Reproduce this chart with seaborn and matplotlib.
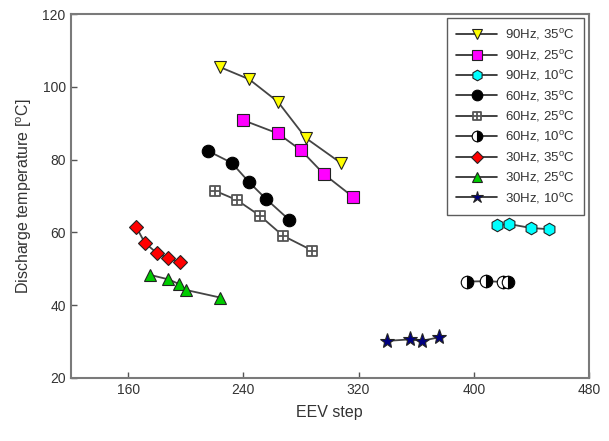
import numpy as np
import pandas as pd
import matplotlib
matplotlib.use("Agg")
import matplotlib.pyplot as plt
from matplotlib.path import Path
from matplotlib.lines import Line2D
import seaborn as sns

# ---- data ----
labels = ["90Hz, 35$^\\mathrm{o}$C", "90Hz, 25$^\\mathrm{o}$C", "90Hz, 10$^\\mathrm{o}$C",
          "60Hz, 35$^\\mathrm{o}$C", "60Hz, 25$^\\mathrm{o}$C", "60Hz, 10$^\\mathrm{o}$C",
          "30Hz, 35$^\\mathrm{o}$C", "30Hz, 25$^\\mathrm{o}$C", "30Hz, 10$^\\mathrm{o}$C"]

x_90_35 = [224, 244, 264, 283.5, 308]
y_90_35 = [105.4, 102.1, 95.9, 85.9, 79.0]
x_90_25 = [239.5, 264, 280, 296, 316]
y_90_25 = [90.9, 87.2, 82.6, 76.0, 69.8]
x_90_10 = [416, 424.5, 440, 452]
y_90_10 = [62.0, 62.3, 61.2, 60.9]
x_60_35 = [215.5, 232, 244, 255.5, 272]
y_60_35 = [82.4, 79.1, 73.8, 69.3, 63.4]
x_60_25 = [220, 235.5, 251.5, 267.5, 288]
y_60_25 = [71.5, 68.9, 64.6, 59.1, 55.0]
x_60_10 = [395, 408.5, 420.5, 424]
y_60_10 = [46.5, 46.6, 46.4, 46.4]
x_30_35 = [165.5, 171.5, 180, 188, 196]
y_30_35 = [61.6, 57.2, 54.3, 52.9, 51.8]
x_30_25 = [175.5, 188, 195.5, 200, 224]
y_30_25 = [48.3, 47.1, 45.8, 44.2, 42.1]
x_30_10 = [340, 355.5, 364, 376]
y_30_10 = [30.2, 30.6, 30.2, 31.2]

xs = [x_90_35, x_90_25, x_90_10, x_60_35, x_60_25, x_60_10, x_30_35, x_30_25, x_30_10]
ys = [y_90_35, y_90_25, y_90_10, y_60_35, y_60_25, y_60_10, y_30_35, y_30_25, y_30_10]

x_ticks = [160, 240, 320, 400, 480]
y_ticks = [20, 40, 60, 80, 100, 120]

# boxed-cross marker
boxcross = Path(
    [(-1, -1), (1, -1), (1, 1), (-1, 1), (-1, -1), (0, -1), (0, 1), (-1, 0), (1, 0)],
    [Path.MOVETO, Path.LINETO, Path.LINETO, Path.LINETO, Path.CLOSEPOLY,
     Path.MOVETO, Path.LINETO, Path.MOVETO, Path.LINETO])

styles = [
    dict(marker="v", markerfacecolor="#ffff00", markeredgecolor="#222222", markersize=9),
    dict(marker="s", markerfacecolor="#ff00ff", markeredgecolor="#222222", markersize=8),
    dict(marker="h", markerfacecolor="#00ffff", markeredgecolor="#222222", markersize=9),
    dict(marker="o", markerfacecolor="#000000", markeredgecolor="#000000", markersize=9),
    dict(marker=boxcross, markerfacecolor="#ffffff", markeredgecolor="#555555", markersize=7.5, markeredgewidth=1.3),
    dict(marker="o", fillstyle="right", markerfacecolor="#000000", markerfacecoloralt="#ffffff",
         markeredgecolor="#000000", markersize=9),
    dict(marker="D", markerfacecolor="#ff0000", markeredgecolor="#222222", markersize=7.5),
    dict(marker="^", markerfacecolor="#00cc00", markeredgecolor="#222222", markersize=9),
    dict(marker="*", markerfacecolor="#000080", markeredgecolor="#222222", markersize=11),
]

sns.set_style("ticks")
plt.rcParams["font.family"] = ["Liberation Sans", "DejaVu Sans"]
plt.rcParams["mathtext.fontset"] = "custom"
plt.rcParams["mathtext.rm"] = "Liberation Sans"

fig = plt.figure(figsize=(6.09, 4.41), dpi=100)
ax = fig.add_axes([0.1158, 0.1429, 0.9672 - 0.1158, 0.968 - 0.1429])

handles = []
for lab, x, y, st in zip(labels, xs, ys, styles):
    df = pd.DataFrame({"x": x, "y": y})
    kw = dict(st)
    if "markeredgewidth" not in kw:
        kw["markeredgewidth"] = 0.8
    sns.lineplot(data=df, x="x", y="y", ax=ax, sort=False, estimator=None,
                 color="#444444", linewidth=1.3, legend=False, **kw)
    lkw = dict(kw)
    lkw["markersize"] = kw["markersize"] * 0.85
    handles.append(Line2D([], [], color="#222222", linewidth=1.2, label=lab, **lkw))

ax.set_xlim(120, 480)
ax.set_ylim(20, 120)
ax.set_xticks(x_ticks)
ax.set_yticks(y_ticks)
ax.tick_params(direction="in", length=4, width=1, colors="#555555", labelcolor="#333333",
               labelsize=10, top=False, right=False)
for s in ax.spines.values():
    s.set_color("#7a7a7a")
    s.set_linewidth(1.5)
    s.set_visible(True)

ax.set_xlabel("EEV step", fontsize=11.5, color="#333333", labelpad=6)
ax.set_ylabel("Discharge temperature [$^\\mathrm{o}$C]", fontsize=11.5, color="#333333", labelpad=6)

leg = ax.legend(handles=handles, loc="upper right", bbox_to_anchor=(0.990, 0.989),
                borderaxespad=0.0,
                fontsize=9.5, frameon=True, fancybox=False, edgecolor="#333333",
                labelspacing=0.41, handlelength=3.1, borderpad=0.7, handletextpad=0.6)
leg.get_frame().set_linewidth(1.0)
for t in leg.get_texts():
    t.set_color("#333333")

fig.savefig("out.png", dpi=100)
